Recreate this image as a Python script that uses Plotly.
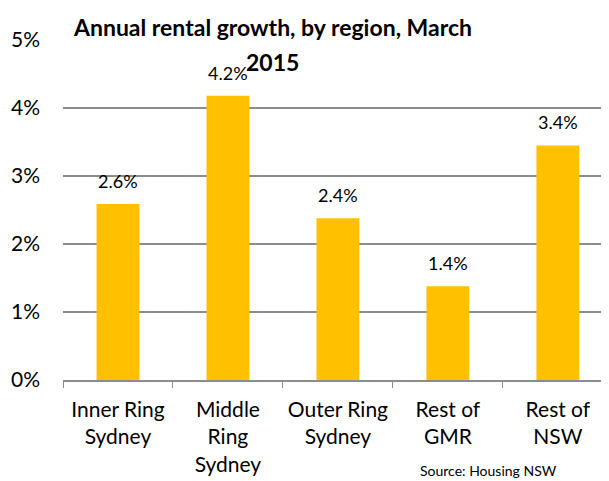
import plotly.graph_objects as go

categories = ["Inner Ring<br>Sydney", "Middle<br>Ring<br>Sydney", "Outer Ring<br>Sydney", "Rest of<br>GMR", "Rest of<br>NSW"]
values = [2.59, 4.18, 2.38, 1.38, 3.45]
value_labels = ["2.6%", "4.2%", "2.4%", "1.4%", "3.4%"]
y_ticks = [0, 1, 2, 3, 4, 5]
y_tick_labels = ["0%", "1%", "2%", "3%", "4%", "5%"]
title_lines = ["Annual rental growth, by region, March", "2015"]
source_text = "Source: Housing NSW"

FONT = "Lato, Open Sans, sans-serif"
OFF = 8  # page body margin
W, H = 609 - OFF, 481 - OFF
PLOT_TOP, PLOT_BOTTOM, PLOT_LEFT, PLOT_RIGHT = 40 - OFF, 380 - OFF, 63 - OFF, W


def py(pix):
    return (PLOT_BOTTOM - (pix - OFF)) / (PLOT_BOTTOM - PLOT_TOP)


def px(pix):
    return ((pix - OFF) - PLOT_LEFT) / (PLOT_RIGHT - PLOT_LEFT)


fig = go.Figure(go.Bar(
    x=categories, y=values,
    marker=dict(color="#FFC000", line=dict(width=0)),
    width=0.39,
))

annotations = []
for c, v, t in zip(categories, values, value_labels):
    annotations.append(dict(
        x=c, y=v, xref="x", yref="y", text=t, showarrow=False,
        yanchor="bottom", yshift=10,
        font=dict(family=FONT, size=18, color="#000000"),
    ))

for line, ypix in zip(title_lines, [27, 62]):
    annotations.append(dict(
        x=px(272), y=py(ypix), xref="paper", yref="paper",
        text="<b>" + line + "</b>", showarrow=False,
        xanchor="center", yanchor="middle",
        font=dict(family=FONT, size=23, color="#000000"),
    ))

annotations.append(dict(
    text=source_text, xref="paper", yref="paper",
    x=px(418), y=py(481), xanchor="left", yanchor="bottom",
    showarrow=False, font=dict(family=FONT, size=14, color="#000000"),
))

fig.update_layout(
    width=W, height=H,
    margin=dict(l=PLOT_LEFT, r=0, t=PLOT_TOP, b=H - PLOT_BOTTOM, autoexpand=False),
    paper_bgcolor="white", plot_bgcolor="white",
    font=dict(family=FONT, size=22, color="#000000"),
    showlegend=False,
    xaxis=dict(
        range=[-0.5, 4.465], showgrid=False, showline=True, automargin=False,
        linecolor="#8c8c8c", linewidth=1.5, tickangle=0,
        ticks="outside", tickson="boundaries", ticklen=6, tickcolor="#8c8c8c",
        ticklabelstandoff=10,
        tickfont=dict(family=FONT, size=21, color="#000000"),
    ),
    yaxis=dict(
        range=[0, 5], tickvals=y_ticks, ticktext=y_tick_labels, automargin=False,
        showgrid=True, gridcolor="#8c8c8c", gridwidth=1.5,
        zeroline=False, showline=False, ticks="", ticklabelstandoff=22,
        tickfont=dict(family=FONT, size=21, color="#000000"),
    ),
    annotations=annotations,
)

fig.write_html("out.html")
